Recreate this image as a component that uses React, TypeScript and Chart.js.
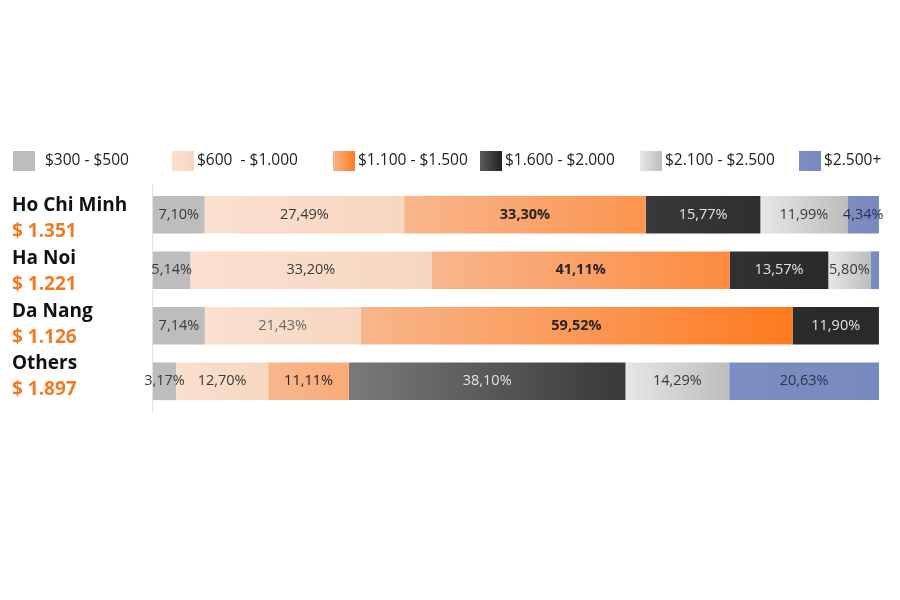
import React, { useEffect, useRef } from "react";
import { Chart, registerables } from "chart.js";
Chart.register(...registerables);

const cities = ["Ho Chi Minh", "Ha Noi", "Da Nang", "Others"];
const avgPrices = ["$ 1.351", "$ 1.221", "$ 1.126", "$ 1.897"];
const ranges = ["$300 - $500", "$600  - $1.000", "$1.100 - $1.500", "$1.600 - $2.000", "$2.100 - $2.500", "$2.500+"];

const s300_500 = [7.10, 5.14, 7.14, 3.17];
const s600_1000 = [27.49, 33.20, 21.43, 12.70];
const s1100_1500 = [33.30, 41.11, 59.52, 11.11];
const s1600_2000 = [15.77, 13.57, 11.90, 38.10];
const s2100_2500 = [11.99, 5.80, 0, 14.29];
const s2500plus = [4.34, 1.18, 0, 20.63];

const seriesValues = [s300_500, s600_1000, s1100_1500, s1600_2000, s2100_2500, s2500plus];
const gradStops = [
  ["#bdbdbd", "#bdbdbd"],
  ["#fae0ce", "#f7d6c0"],
  ["#f8b68d", "#fe7a1f"],
  ["#5e5e5e", "#2e2e2e"],
  ["#e6e6e6", "#bdbdbd"],
  ["#7d8dc1", "#7789bf"],
];
const textColors = ["#3a3a3a", "#3a3a3a", "#262626", "#e2e2e2", "#3a3a3a", "#2b3350"];
const legendX = [13, 172, 333, 480, 640, 799];
const FONT = "'Open Sans', sans-serif";

function hexMix(a: string, b: string, t: number) {
  const pa = [1, 3, 5].map((p) => parseInt(a.slice(p, p + 2), 16));
  const pb = [1, 3, 5].map((p) => parseInt(b.slice(p, p + 2), 16));
  const m = pa.map((v, k) => Math.round(v + (pb[k] - v) * t));
  return `rgb(${m[0]},${m[1]},${m[2]})`;
}

function makeGrad(c0: string, c1: string, d: number) {
  return (ctx: any) => {
    const chart = ctx.chart;
    if (!chart.chartArea || ctx.type !== "data") return c0;
    const xs = chart.scales.x;
    const i = ctx.dataIndex;
    let start = 0;
    for (let k = 0; k < d; k++) start += chart.data.datasets[k].data[i] || 0;
    const v = chart.data.datasets[d].data[i] || 0;
    if (d === 3) {
      const g = chart.ctx.createLinearGradient(xs.getPixelForValue(27), 0, xs.getPixelForValue(92), 0);
      g.addColorStop(0, "#7a7a7a");
      g.addColorStop(0.55, "#3c3c3c");
      g.addColorStop(1, "#2a2a2a");
      return g;
    }
    const x0 = xs.getPixelForValue(start);
    const x1 = xs.getPixelForValue(start + v);
    if (!(x1 > x0)) return c0;
    const g = chart.ctx.createLinearGradient(x0, 0, x1, 0);
    g.addColorStop(0, c0);
    g.addColorStop(1, d === 2 ? hexMix(c0, c1, Math.min(1, v / 58)) : c1);
    return g;
  };
}

const fmt = (v: number) => v.toFixed(2).replace(".", ",") + "%";

const customPlugin = {
  id: "custom",
  afterDatasetsDraw(chart: any) {
    const { ctx, chartArea } = chart;
    ctx.save();
    ctx.strokeStyle = "#e2e2e2";
    ctx.lineWidth = 1;
    ctx.beginPath();
    ctx.moveTo(chartArea.left - 0.5, chartArea.top - 3);
    ctx.lineTo(chartArea.left - 0.5, chartArea.bottom + 3);
    ctx.stroke();

    ctx.textAlign = "center";
    ctx.textBaseline = "middle";
    chart.data.datasets.forEach((ds: any, d: number) => {
      const meta = chart.getDatasetMeta(d);
      meta.data.forEach((el: any, i: number) => {
        const v = ds.data[i];
        if (!v || v < 2) return;
        const bold = d === 2 && v > 20;
        ctx.font = `${bold ? "bold " : ""}14.5px ${FONT}`;
        let col = textColors[d];
        if (d === 1 && i === 2) col = "#6a6a6a";
        ctx.fillStyle = col;
        const cx = (el.x + el.base) / 2;
        ctx.fillText(fmt(v), cx, el.y);
      });
    });

    const ys = chart.scales.y;
    const step = (ys.getPixelForValue(1) - ys.getPixelForValue(0)) * 0.95;
    const base = ys.getPixelForValue(0) - 9;
    ctx.textAlign = "left";
    cities.forEach((c, i) => {
      const yc = base + i * step;
      ctx.font = `bold 19px ${FONT}`;
      ctx.fillStyle = "#111111";
      ctx.fillText(c, 12, yc);
      ctx.fillStyle = "#f27a22";
      ctx.fillText(avgPrices[i], 12, yc + 26);
    });

    ranges.forEach((r, k) => {
      const x = legendX[k];
      const g = ctx.createLinearGradient(x, 0, x + 22, 0);
      if (k === 3) {
        g.addColorStop(0, "#5a5a5a");
        g.addColorStop(1, "#222222");
      } else {
        g.addColorStop(0, gradStops[k][0]);
        g.addColorStop(1, gradStops[k][1]);
      }
      ctx.fillStyle = g;
      ctx.fillRect(x, 151, 22, 20);
      ctx.font = `15.5px ${FONT}`;
      ctx.fillStyle = "#222222";
      ctx.fillText(r, x + (k === 0 ? 32 : 25), 161);
    });
    ctx.restore();
  },
};

export default function App() {
  const ref = useRef<HTMLCanvasElement>(null);
  useEffect(() => {
    document.body.style.margin = "0";
    const chart = new Chart(ref.current!, {
      type: "bar",
      data: {
        labels: cities,
        datasets: seriesValues.map((vals, k) => ({
          label: ranges[k],
          data: vals,
          backgroundColor: makeGrad(gradStops[k][0], gradStops[k][1], k),
          borderWidth: 0,
          categoryPercentage: 1,
          barPercentage: 0.68,
        })),
      },
      options: {
        indexAxis: "y",
        responsive: false,
        animation: false,
        layout: { padding: { left: 153, right: 21, top: 187, bottom: 191 } },
        scales: {
          x: { stacked: true, min: 0, max: 100, display: false },
          y: { stacked: true, display: false },
        },
        plugins: { legend: { display: false }, tooltip: { enabled: false } },
      },
      plugins: [customPlugin],
    });
    return () => chart.destroy();
  }, []);
  return <canvas ref={ref} width={900} height={600} style={{ display: "block" }} />;
}
